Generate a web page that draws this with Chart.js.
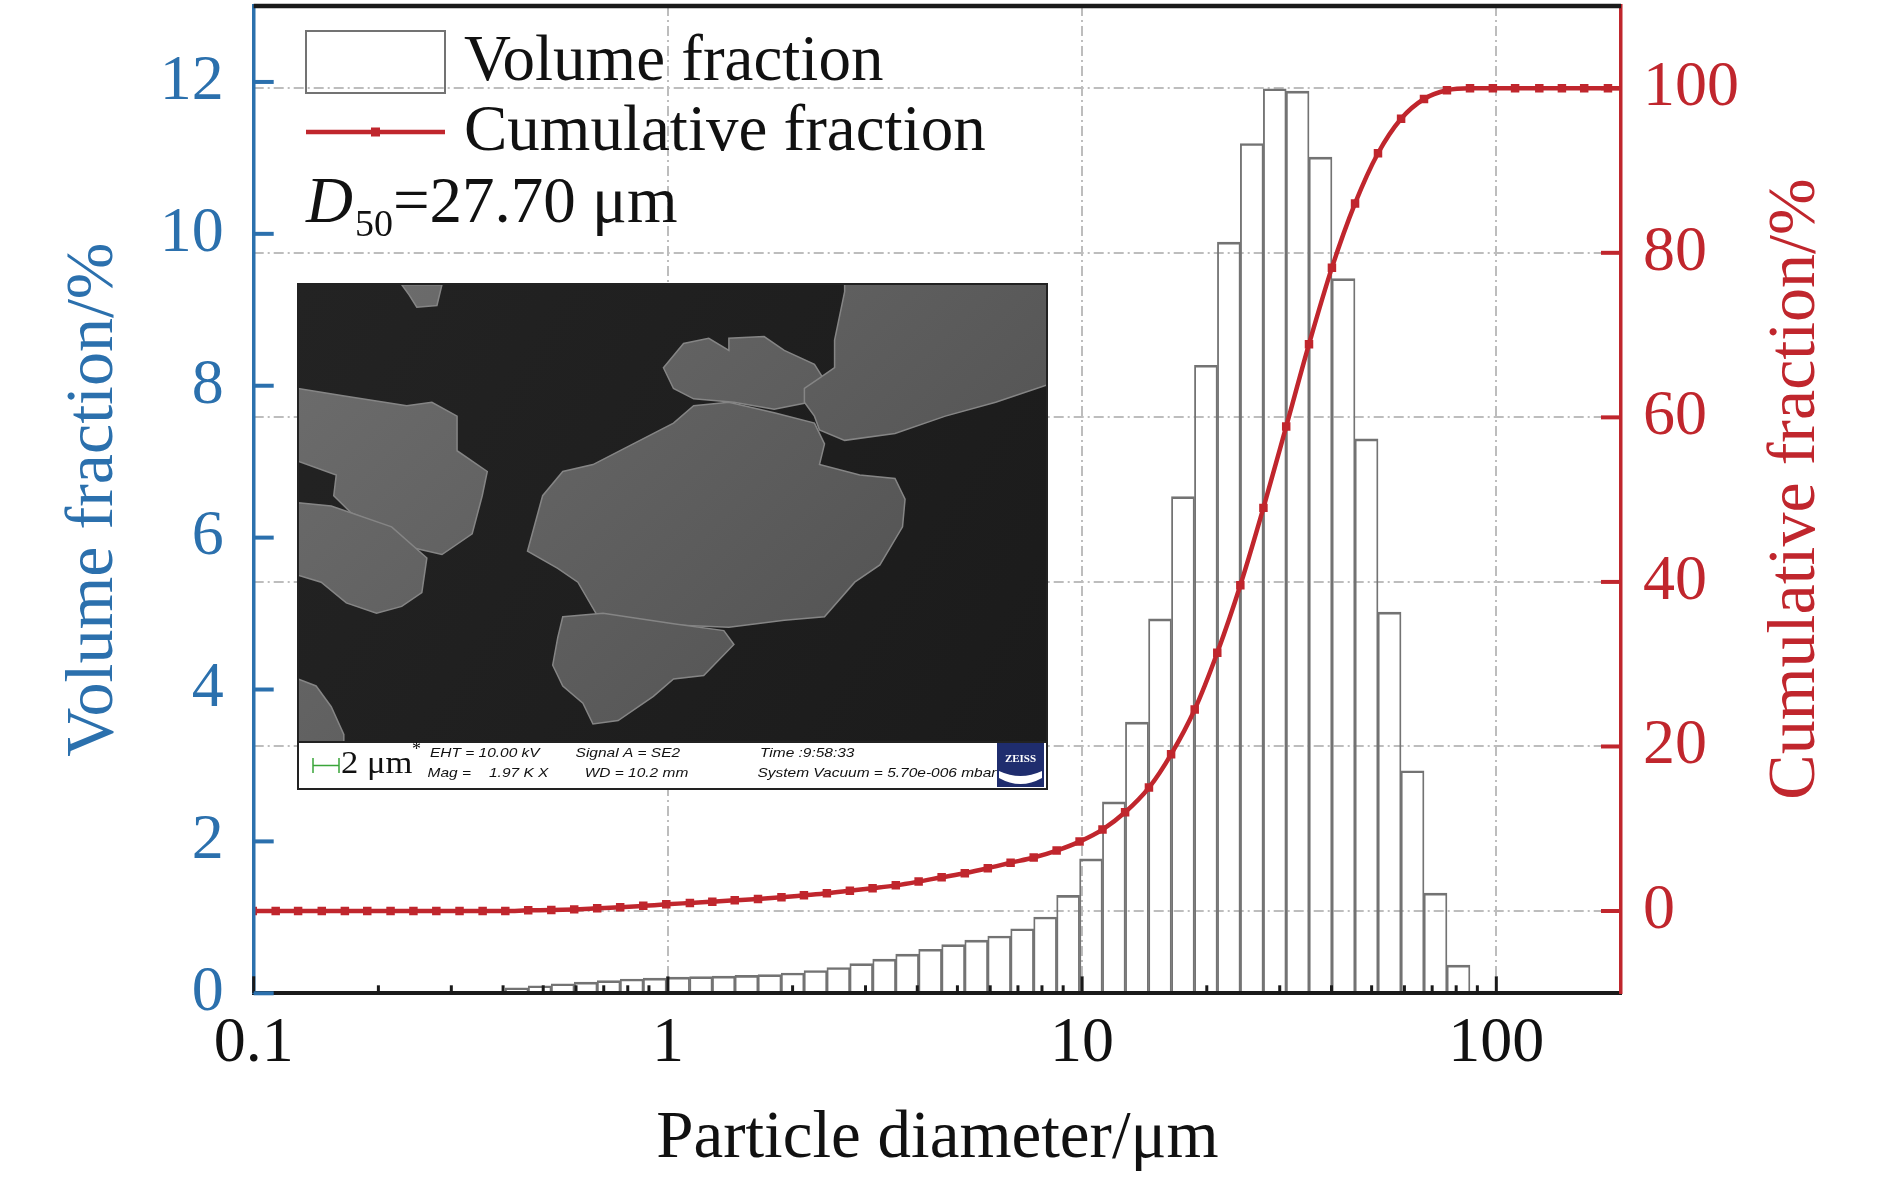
<!DOCTYPE html>
<html><head><meta charset="utf-8">
<script src="https://cdn.jsdelivr.net/npm/chart.js@4.4.1/dist/chart.umd.min.js"></script>
<style>html,body{margin:0;padding:0;background:#fff;overflow:hidden}#wrap{width:1889px;height:1181px;position:relative}</style>
</head><body><div id="wrap"><canvas id="c"></canvas></div>
<script>
// Particle size classes (µm) – lower bin edges
const binSizes = [0.0995,0.113,0.128,0.146,0.166,0.188,0.214,0.243,0.276,0.314,0.357,0.405,0.460,0.523,0.594,0.675,0.767,0.872,0.991,1.13,1.28,1.45,1.65,1.88,2.13,2.42,2.75,3.12,3.55,4.03,4.58,5.21,5.92,6.72,7.64,8.68,9.86,11.2,12.7,14.5,16.4,18.7,21.2,24.1,27.4,31.1,35.3,40.1,45.6,51.8,58.9,66.9,76.0,86.4,98.1,111,127,144,163,186,211];
// Volume fraction (%) of each bin (bin i spans binSizes[i]..binSizes[i+1])
const volumeFraction = [null,null,null,null,null,null,null,null,null,null,null,
  0.073,0.10,0.126,0.148,0.166,0.188,0.20,0.214,0.22,0.227,0.236,0.245,0.267,0.30,0.34,0.39,0.45,0.515,0.58,0.64,0.70,0.755,0.85,1.005,1.29,
  1.77,2.52,3.57,4.93,6.54,8.27,9.89,11.19,11.91,11.88,11.01,9.41,7.30,5.02,2.93,1.32,0.37,0.03,
  null,null,null,null,null,null,null];
// Cumulative fraction (%) at each size
const cumulativeFraction = [0,0,0,0,0,0,0,0,0,0,0,0,
  0.08,0.12,0.2,0.33,0.46,0.63,0.81,0.98,1.14,1.3,1.47,1.67,1.91,2.16,2.47,2.78,3.12,3.58,4.1,4.6,5.2,5.86,6.5,7.35,8.44,9.9,
  12.0,15.0,19.05,24.5,31.4,39.6,49.0,58.9,68.9,78.2,86.0,92.1,96.3,98.7,99.76,
  100,100,100,100,100,100,100,100];
const xTickValues = [0.1,1,10,100];
const xTickLabels = ['0.1','1','10','100'];
const xMinorTicks = [0.2,0.3,0.4,0.5,0.6,0.7,0.8,0.9,2,3,4,5,6,7,8,9,20,30,40,50,60,70,80,90];
const leftTickValues = [0,2,4,6,8,10,12];
const rightTickValues = [0,20,40,60,80,100];

const BLUE = '#2b70ad', RED = '#c0262d', GRID = '#bdbdbd';
const SERIF = "'Liberation Serif','Times New Roman',serif";
Chart.defaults.font.family = SERIF;

const barData = [];
for (let i = 0; i < binSizes.length - 1; i++) {
  if (volumeFraction[i] != null) barData.push({x: Math.sqrt(binSizes[i] * binSizes[i + 1]), y: volumeFraction[i]});
}
const lineData = binSizes.map((s, i) => ({x: s, y: cumulativeFraction[i]}));

// SEM inset decoration shapes (normalized 0..1488 x 0..1324 of the picture area)
const semParticles = [
 [[470,810],[500,650],[540,580],[600,560],[680,500],[760,440],[800,390],[870,380],[960,410],[1040,440],[1060,500],[1050,560],[1130,590],[1200,600],[1220,660],[1215,740],[1170,850],[1120,900],[1060,1000],[980,1010],[870,1030],[700,1020],[610,1000],[570,900],[530,860]],
 [[540,1000],[620,990],[760,1020],[860,1040],[880,1080],[820,1170],[760,1180],[720,1230],[650,1300],[600,1310],[580,1250],[540,1200],[520,1140],[530,1060]],
 [[740,280],[780,210],[830,195],[870,230],[870,195],[940,190],[980,230],[1040,270],[1070,340],[1030,380],[960,400],[880,380],[800,370],[760,340]],
 [[1080,200],[1100,60],[1100,38],[1502,38],[1502,330],[1400,380],[1300,420],[1200,470],[1100,490],[1050,460],[1040,420],[1020,380],[1020,340],[1050,310],[1080,280]],
 [[14,340],[100,360],[230,390],[280,380],[330,420],[330,520],[390,580],[380,650],[360,760],[300,820],[240,800],[190,740],[120,700],[85,650],[90,590],[14,550]],
 [[14,670],[80,680],[200,740],[270,830],[260,930],[220,970],[170,990],[110,960],[60,900],[14,880]],
 [[220,40],[300,40],[290,100],[250,105],[235,70]],
 [[14,1180],[50,1200],[80,1260],[105,1340],[105,1362],[14,1362]]
];

function stretchText(ctx, text, x, y, font, sx, color) {
  ctx.save();
  ctx.font = font; ctx.fillStyle = color || '#111';
  ctx.textAlign = 'left'; ctx.textBaseline = 'alphabetic';
  ctx.translate(x, y); ctx.scale(sx, 1);
  ctx.fillText(text, 0, 0);
  ctx.restore();
}
function noPad(s) { s.paddingTop = 0; s.paddingBottom = 0; s.paddingLeft = 0; s.paddingRight = 0; }

const deco = {
  id: 'deco',
  afterDraw(chart) {
    const {ctx, chartArea: a, scales} = chart;
    const sx = scales.x, sy = scales.y, sy2 = scales.y2;
    ctx.save();
    // top frame line
    ctx.strokeStyle = '#1a1a1a'; ctx.lineWidth = 4.5;
    ctx.beginPath(); ctx.moveTo(a.left, a.top); ctx.lineTo(a.right, a.top); ctx.stroke();
    // inward ticks – bottom
    ctx.lineWidth = 3; ctx.strokeStyle = '#1a1a1a';
    xTickValues.forEach(v => { const p = sx.getPixelForValue(v); ctx.beginPath(); ctx.moveTo(p, a.bottom); ctx.lineTo(p, a.bottom - 17); ctx.stroke(); });
    xMinorTicks.forEach(v => { const p = sx.getPixelForValue(v); ctx.beginPath(); ctx.moveTo(p, a.bottom); ctx.lineTo(p, a.bottom - 8); ctx.stroke(); });
    // left ticks
    ctx.lineWidth = 4; ctx.strokeStyle = BLUE;
    leftTickValues.forEach(v => { const p = sy.getPixelForValue(v); ctx.beginPath(); ctx.moveTo(a.left, p); ctx.lineTo(a.left + 20, p); ctx.stroke(); });
    // right ticks
    ctx.strokeStyle = RED;
    rightTickValues.forEach(v => { const p = sy2.getPixelForValue(v); ctx.beginPath(); ctx.moveTo(a.right, p); ctx.lineTo(a.right - 20, p); ctx.stroke(); });

    // right axis title (reads bottom to top)
    ctx.save();
    ctx.font = '68px ' + SERIF; ctx.fillStyle = RED; ctx.textAlign = 'center'; ctx.textBaseline = 'alphabetic';
    ctx.translate(1814, 489); ctx.rotate(-Math.PI / 2);
    ctx.fillText('Cumulative fraction/%', 0, 0);
    ctx.restore();

    // legend
    ctx.lineWidth = 2; ctx.strokeStyle = '#737373';
    ctx.strokeRect(306, 31, 139, 62);
    ctx.strokeStyle = RED; ctx.lineWidth = 4.5;
    ctx.beginPath(); ctx.moveTo(306, 132); ctx.lineTo(445, 132); ctx.stroke();
    ctx.fillStyle = RED; ctx.fillRect(371, 127.5, 9, 9);
    ctx.fillStyle = '#111'; ctx.font = '65px ' + SERIF; ctx.textAlign = 'left'; ctx.textBaseline = 'alphabetic';
    ctx.fillText('Volume fraction', 464, 80);
    ctx.fillText('Cumulative fraction', 464, 150);
    // D50 annotation
    ctx.font = 'italic 65px ' + SERIF;
    ctx.fillText('D', 306, 222);
    let xx = 306 + ctx.measureText('D').width + 2;
    ctx.font = '38px ' + SERIF;
    ctx.fillText('50', xx, 236);
    xx += ctx.measureText('50').width;
    ctx.font = '65px ' + SERIF;
    ctx.fillText('=27.70 μm', xx, 222);

    // SEM inset
    const ix = 298, iy = 284, iw = 749, ih = 458, bh = 47;
    const g = ctx.createLinearGradient(ix, iy, ix + iw, iy + ih);
    g.addColorStop(0, '#232323'); g.addColorStop(1, '#1b1b1b');
    ctx.fillStyle = g; ctx.fillRect(ix, iy, iw, ih);
    ctx.save();
    ctx.beginPath(); ctx.rect(ix, iy, iw, ih); ctx.clip();
    semParticles.forEach((poly) => {
      ctx.beginPath();
      poly.forEach(([zx, zy], j) => {
        const px = ix + (zx - 14) / 1488 * iw, py = iy + (zy - 38) / 1324 * ih;
        if (j === 0) ctx.moveTo(px, py); else ctx.lineTo(px, py);
      });
      ctx.closePath();
      const pg = ctx.createLinearGradient(ix, iy, ix + iw * 0.6, iy + ih);
      pg.addColorStop(0, '#6e6e6e'); pg.addColorStop(1, '#555555');
      ctx.fillStyle = pg; ctx.fill();
      ctx.strokeStyle = '#858585'; ctx.lineWidth = 1.5; ctx.stroke();
    });
    ctx.restore();
    // info bar
    ctx.fillStyle = '#fff'; ctx.fillRect(ix, iy + ih, iw, bh);
    ctx.strokeStyle = '#222'; ctx.lineWidth = 2; ctx.strokeRect(ix, iy, iw, ih + bh);
    ctx.beginPath(); ctx.moveTo(ix, iy + ih); ctx.lineTo(ix + iw, iy + ih); ctx.stroke();
    // scale bar
    ctx.strokeStyle = '#3aa53a'; ctx.lineWidth = 1.5;
    ctx.beginPath(); ctx.moveTo(313, 758); ctx.lineTo(313, 773); ctx.moveTo(313, 765.5); ctx.lineTo(339, 765.5); ctx.moveTo(339, 758); ctx.lineTo(339, 773); ctx.stroke();
    stretchText(ctx, '2 μm', 341, 773, '32px ' + SERIF, 1.08, '#111');
    stretchText(ctx, '*', 412, 755, '18px ' + SERIF, 1, '#111');
    const inf = "italic 13px 'Liberation Sans',Arial,sans-serif";
    stretchText(ctx, 'EHT = 10.00 kV', 430, 757, inf, 1.19);
    stretchText(ctx, 'Signal A = SE2', 575.6, 757, inf, 1.19);
    stretchText(ctx, 'Time :9:58:33', 760, 757, inf, 1.19);
    stretchText(ctx, 'Mag =', 427.5, 777, inf, 1.19);
    stretchText(ctx, '1.97 K X', 489, 777, inf, 1.19);
    stretchText(ctx, 'WD = 10.2 mm', 584.7, 777, inf, 1.19);
    stretchText(ctx, 'System Vacuum = 5.70e-006 mbar', 757.5, 777, inf, 1.19);
    // ZEISS logo
    ctx.fillStyle = '#1f2d6e'; ctx.fillRect(997, 743, 47, 44);
    ctx.fillStyle = '#fff'; ctx.font = "bold 11px " + SERIF; ctx.textAlign = 'center';
    ctx.fillText('ZEISS', 1020.5, 762);
    ctx.beginPath(); ctx.moveTo(999, 771); ctx.quadraticCurveTo(1020.5, 781, 1042, 771);
    ctx.lineTo(1042, 778); ctx.quadraticCurveTo(1020.5, 790, 999, 778); ctx.closePath(); ctx.fill();
    ctx.restore();
  }
};

new Chart(document.getElementById('c'), {
  data: {
    datasets: [
      {type: 'bar', label: 'Volume fraction', data: barData, xAxisID: 'x', yAxisID: 'y',
       backgroundColor: 'rgba(255,255,255,0)', borderColor: '#737373',
       borderWidth: {top: 2, left: 1.2, right: 1.2, bottom: 0}, borderSkipped: 'start',
       barThickness: 'flex', barPercentage: 1, categoryPercentage: 1, order: 2},
      {type: 'line', label: 'Cumulative fraction', data: lineData, xAxisID: 'x', yAxisID: 'y2',
       borderColor: RED, backgroundColor: RED, borderWidth: 4.5, pointStyle: 'rect', pointRadius: 6,
       pointBackgroundColor: RED, pointBorderWidth: 0, cubicInterpolationMode: 'monotone', order: 1}
    ]
  },
  options: {
    responsive: true, maintainAspectRatio: false, animation: false, devicePixelRatio: 1,
    layout: {padding: {top: 2, left: 0, right: 0, bottom: 0}},
    plugins: {legend: {display: false}, tooltip: {enabled: false}},
    scales: {
      x: {type: 'logarithmic', position: 'bottom', min: 0.1, max: 200, offset: false,
          afterBuildTicks: s => { s.ticks = xTickValues.map(v => ({value: v})); },
          afterFit: s => { s.height = 187.7; noPad(s); },
          ticks: {autoSkip: false, maxRotation: 0, color: '#111', font: {size: 64}, padding: 12,
                  callback: (v, i) => xTickLabels[i]},
          grid: {offset: false, drawTicks: false, lineWidth: 2, color: c => (c.tick && c.tick.value === 0.1) ? 'rgba(0,0,0,0)' : GRID},
          border: {color: '#1a1a1a', width: 4, dash: [10, 4, 2, 4], z: 1},
          title: {display: true, text: 'Particle diameter/μm', color: '#111', font: {size: 67}, padding: {top: 0, bottom: 1.5}}},
      y: {type: 'linear', position: 'left', min: 0, max: 13,
          afterBuildTicks: s => { s.ticks = leftTickValues.map(v => ({value: v})); },
          afterFit: s => { s.width = 253.7; noPad(s); },
          ticks: {color: BLUE, font: {size: 64}, padding: 30},
          grid: {display: false, drawTicks: false},
          border: {color: BLUE, width: 3.5, z: 1},
          title: {display: true, text: 'Volume fraction/%', color: BLUE, font: {size: 68}, padding: {top: 53, bottom: 0}}},
      y2: {type: 'linear', position: 'right', min: -10, max: 110,
          afterBuildTicks: s => { s.ticks = rightTickValues.map(v => ({value: v})); },
          afterFit: s => { s.width = 268; noPad(s); },
          ticks: {color: RED, font: {size: 64}, padding: 22},
          grid: {drawTicks: false, lineWidth: 2, color: GRID, drawOnChartArea: true},
          border: {color: RED, width: 3.5, dash: [10, 4, 2, 4], z: 1}}
    }
  },
  plugins: [deco]
});
</script>
</body></html>
